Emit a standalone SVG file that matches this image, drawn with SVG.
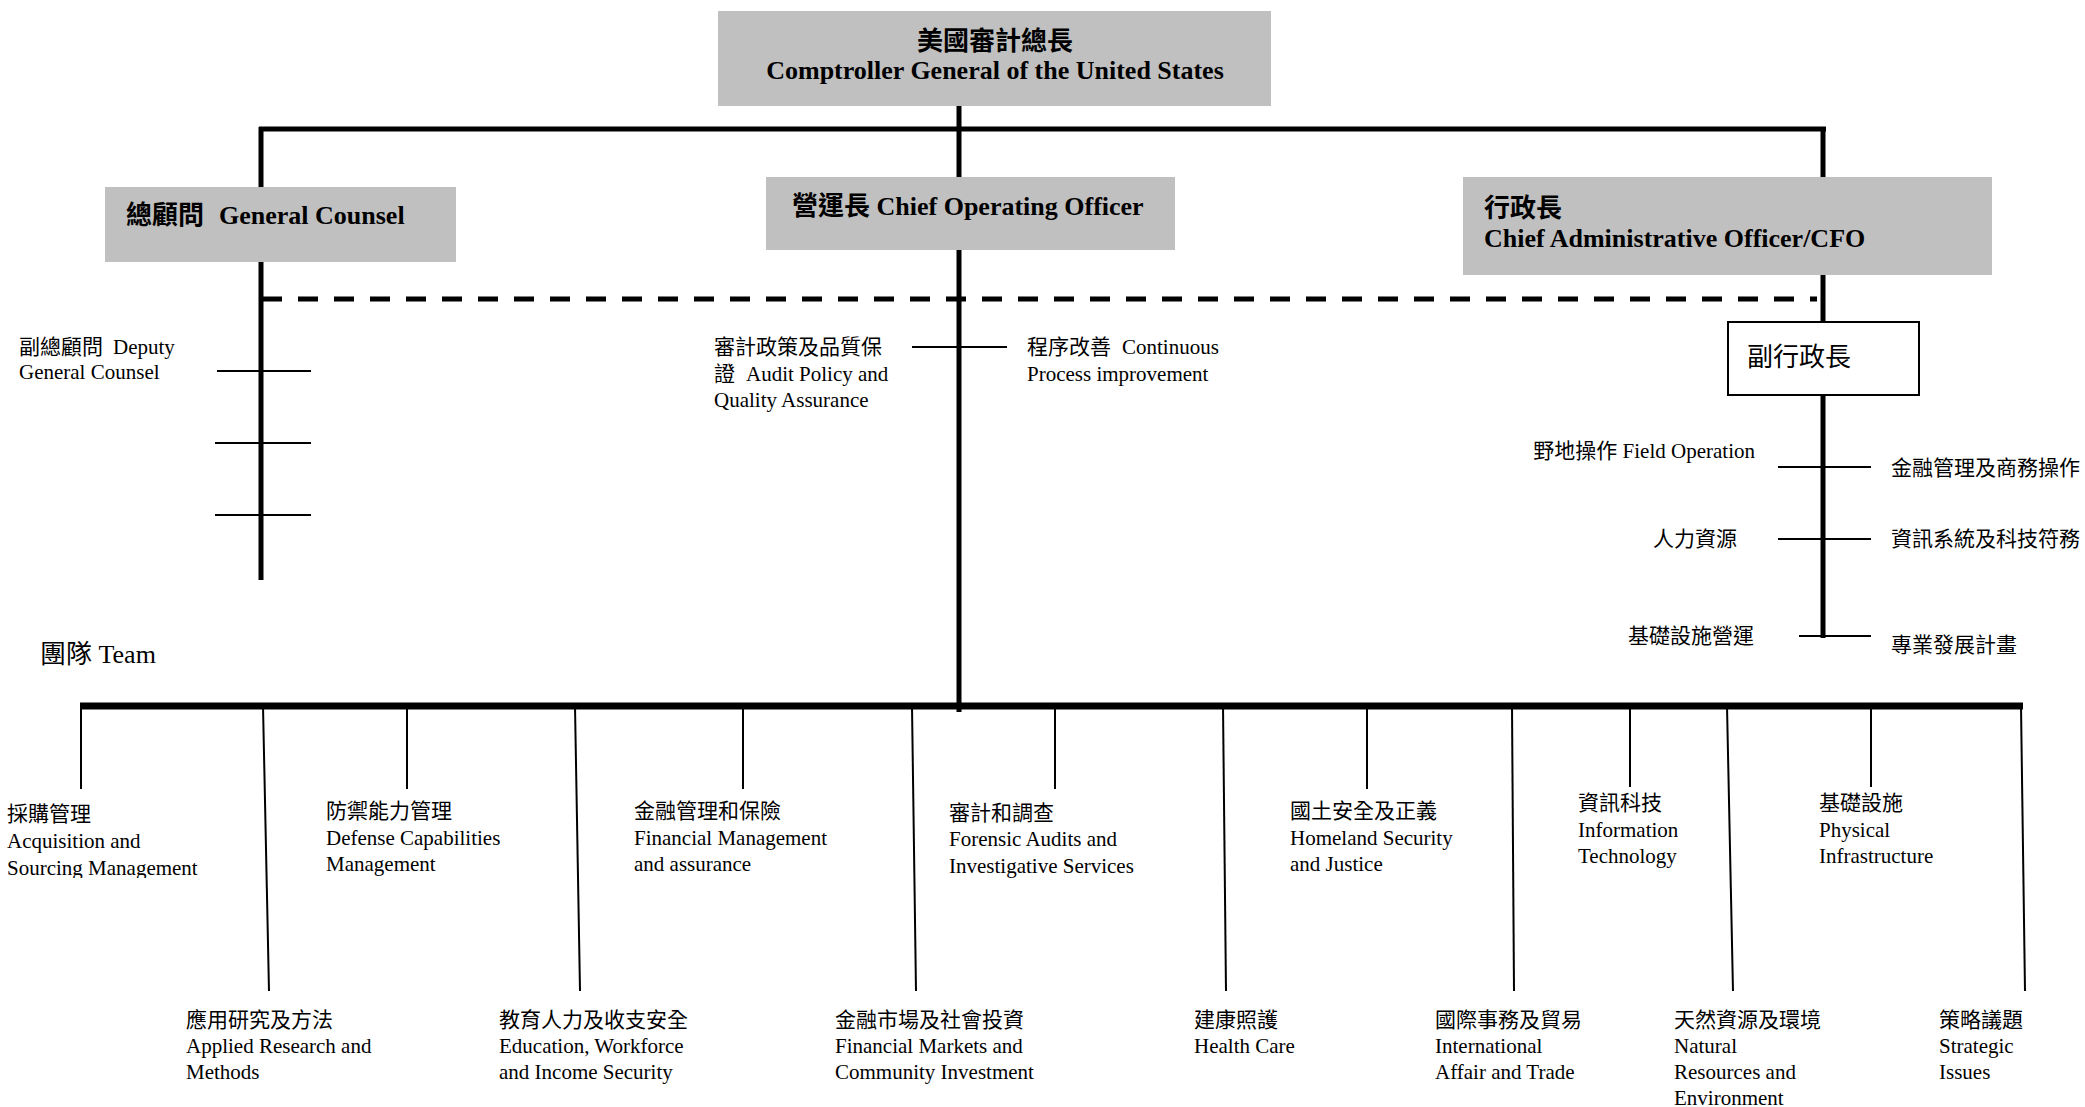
<svg xmlns="http://www.w3.org/2000/svg" width="2085" height="1107" viewBox="0 0 2085 1107">
<style>
text{font-family:"Liberation Serif","Noto Sans CJK TC",serif;fill:#000}
.b{font-weight:bold;font-size:26px}
.r{font-size:21px}
.big{font-size:26px}
.box{fill:#c0c0c0}
.thick{stroke:#000;stroke-width:5;fill:none}
.bar{stroke:#000;stroke-width:7;fill:none}
.thin{stroke:#000;stroke-width:2;fill:none}
.dash{stroke:#000;stroke-width:5;stroke-dasharray:20 16;fill:none}
</style>
<defs>
  <clipPath id="clipAcq"><rect x="0" y="790" width="300" height="88"/></clipPath>
</defs>
<rect width="2085" height="1107" fill="#fff"/>
<g id="connectors">
  <line class="thick" x1="259" y1="129" x2="1826" y2="129"/>
  <line class="thick" x1="959" y1="106" x2="959" y2="712"/>
  <line class="thick" x1="261" y1="127" x2="261" y2="580"/>
  <line class="thick" x1="1823" y1="127" x2="1823" y2="638"/>
  <line class="dash" x1="262" y1="299" x2="1817" y2="299"/>
  <line class="thin" x1="217" y1="371" x2="311" y2="371"/>
  <line class="thin" x1="215" y1="443" x2="311" y2="443"/>
  <line class="thin" x1="215" y1="515" x2="311" y2="515"/>
  <line class="thin" x1="912" y1="347" x2="1007" y2="347"/>
  <line class="thin" x1="1778" y1="467" x2="1871" y2="467"/>
  <line class="thin" x1="1778" y1="539" x2="1871" y2="539"/>
  <line class="thin" x1="1799" y1="636" x2="1871" y2="636"/>
  <line class="bar" x1="80" y1="706" x2="2023" y2="706"/>
  <line class="thin" x1="81" y1="706" x2="81" y2="789"/>
  <line class="thin" x1="407" y1="706" x2="407" y2="789"/>
  <line class="thin" x1="743" y1="706" x2="743" y2="789"/>
  <line class="thin" x1="1055" y1="706" x2="1055" y2="789"/>
  <line class="thin" x1="1367" y1="706" x2="1367" y2="789"/>
  <line class="thin" x1="1630" y1="706" x2="1630" y2="787"/>
  <line class="thin" x1="1871" y1="706" x2="1871" y2="787"/>
  <line class="thin" x1="263" y1="706" x2="269" y2="991"/>
  <line class="thin" x1="575" y1="706" x2="580" y2="991"/>
  <line class="thin" x1="912" y1="706" x2="916" y2="991"/>
  <line class="thin" x1="1223" y1="706" x2="1226" y2="991"/>
  <line class="thin" x1="1512" y1="706" x2="1514" y2="991"/>
  <line class="thin" x1="1727" y1="706" x2="1733" y2="991"/>
  <line class="thin" x1="2021" y1="706" x2="2025" y2="991"/>
</g>
<g id="comptroller">
  <rect class="box" x="718" y="11" width="553" height="95"/>
  <text class="b" x="995" y="50" text-anchor="middle">美國審計總長</text>
  <text class="b" x="995" y="79" text-anchor="middle">Comptroller General of the United States</text>
</g>
<g id="general-counsel">
  <rect class="box" x="105" y="187" width="351" height="75"/>
  <text class="b" x="126" y="224">總顧問<tspan x="219">General Counsel</tspan></text>
</g>
<g id="coo">
  <rect class="box" x="766" y="177" width="409" height="73"/>
  <text class="b" x="792" y="215">營運長 Chief Operating Officer</text>
</g>
<g id="cao">
  <rect class="box" x="1463" y="177" width="529" height="98"/>
  <text class="b" x="1484" y="217">行政長</text>
  <text class="b" x="1484" y="247">Chief Administrative Officer/CFO</text>
</g>
<g id="deputy-cao">
  <rect x="1728" y="322" width="191" height="73" fill="#fff" stroke="#000" stroke-width="2"/>
  <text class="big" x="1747" y="366">副行政長</text>
</g>
<g id="deputy-gc">
  <text class="r" x="19" y="354">副總顧問<tspan x="113">Deputy</tspan></text>
  <text class="r" x="19" y="379">General Counsel</text>
</g>
<g id="audit-policy">
  <text class="r" x="714" y="354">審計政策及品質保</text>
  <text class="r" x="714" y="381">證<tspan x="746">Audit Policy and</tspan></text>
  <text class="r" x="714" y="407">Quality Assurance</text>
</g>
<g id="process-improvement">
  <text class="r" x="1027" y="354">程序改善<tspan x="1122">Continuous</tspan></text>
  <text class="r" x="1027" y="381">Process improvement</text>
</g>
<g id="field-operation"><text class="r" x="1755" y="458" text-anchor="end">野地操作 Field Operation</text></g>
<g id="financial-mgmt-ops"><text class="r" x="1891" y="475">金融管理及商務操作</text></g>
<g id="human-resources"><text class="r" x="1737" y="546" text-anchor="end">人力資源</text></g>
<g id="info-systems"><text class="r" x="1891" y="546">資訊系統及科技符務</text></g>
<g id="infra-ops"><text class="r" x="1754" y="643" text-anchor="end">基礎設施營運</text></g>
<g id="prof-dev"><text class="r" x="1891" y="652">專業發展計畫</text></g>
<g id="team"><text class="big" x="40" y="663">團隊 Team</text></g>
<g id="acquisition" clip-path="url(#clipAcq)">
  <text class="r" x="7" y="821">採購管理</text>
  <text class="r" x="7" y="848">Acquisition and</text>
  <text class="r" x="7" y="875">Sourcing Management</text>
</g>
<g id="defense">
  <text class="r" x="326" y="818">防禦能力管理</text>
  <text class="r" x="326" y="845">Defense Capabilities</text>
  <text class="r" x="326" y="871">Management</text>
</g>
<g id="financial-mgmt">
  <text class="r" x="634" y="818">金融管理和保險</text>
  <text class="r" x="634" y="845">Financial Management</text>
  <text class="r" x="634" y="871">and assurance</text>
</g>
<g id="forensic">
  <text class="r" x="949" y="820">審計和調查</text>
  <text class="r" x="949" y="846">Forensic Audits and</text>
  <text class="r" x="949" y="873">Investigative Services</text>
</g>
<g id="homeland">
  <text class="r" x="1290" y="818">國土安全及正義</text>
  <text class="r" x="1290" y="845">Homeland Security</text>
  <text class="r" x="1290" y="871">and Justice</text>
</g>
<g id="it">
  <text class="r" x="1578" y="810">資訊科技</text>
  <text class="r" x="1578" y="837">Information</text>
  <text class="r" x="1578" y="863">Technology</text>
</g>
<g id="physical-infra">
  <text class="r" x="1819" y="810">基礎設施</text>
  <text class="r" x="1819" y="837">Physical</text>
  <text class="r" x="1819" y="863">Infrastructure</text>
</g>
<g id="applied-research">
  <text class="r" x="186" y="1027">應用研究及方法</text>
  <text class="r" x="186" y="1053">Applied Research and</text>
  <text class="r" x="186" y="1079">Methods</text>
</g>
<g id="education">
  <text class="r" x="499" y="1027">教育人力及收支安全</text>
  <text class="r" x="499" y="1053">Education, Workforce</text>
  <text class="r" x="499" y="1079">and Income Security</text>
</g>
<g id="financial-markets">
  <text class="r" x="835" y="1027">金融市場及社會投資</text>
  <text class="r" x="835" y="1053">Financial Markets and</text>
  <text class="r" x="835" y="1079">Community Investment</text>
</g>
<g id="health-care">
  <text class="r" x="1194" y="1027">建康照護</text>
  <text class="r" x="1194" y="1053">Health Care</text>
</g>
<g id="international">
  <text class="r" x="1435" y="1027">國際事務及貿易</text>
  <text class="r" x="1435" y="1053">International</text>
  <text class="r" x="1435" y="1079">Affair and Trade</text>
</g>
<g id="natural-resources">
  <text class="r" x="1674" y="1027">天然資源及環境</text>
  <text class="r" x="1674" y="1053">Natural</text>
  <text class="r" x="1674" y="1079">Resources and</text>
  <text class="r" x="1674" y="1105">Environment</text>
</g>
<g id="strategic">
  <text class="r" x="1939" y="1027">策略議題</text>
  <text class="r" x="1939" y="1053">Strategic</text>
  <text class="r" x="1939" y="1079">Issues</text>
</g>
</svg>
